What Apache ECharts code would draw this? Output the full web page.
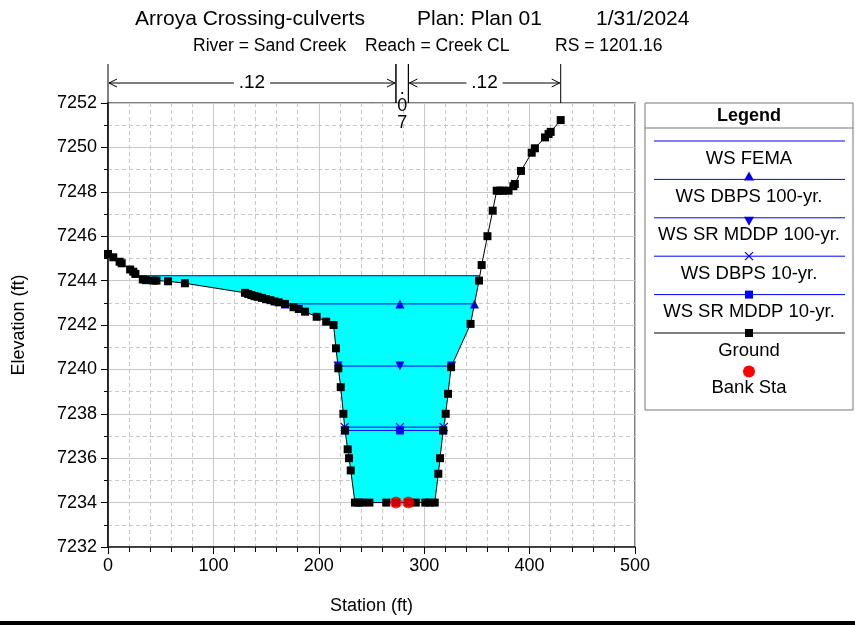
<!DOCTYPE html>
<html><head><meta charset="utf-8">
<script src="https://cdn.jsdelivr.net/npm/echarts@6/dist/echarts.min.js"></script>
<style>html,body{margin:0;padding:0;background:#fff}#c{width:855px;height:625px}</style>
</head><body><div id="c"></div>
<script>
// ---------- data ----------
const groundStation = [0, 5, 11, 13, 21, 24, 26, 33, 36, 43, 46, 57, 73,
  130, 133, 136, 139, 142, 146, 150, 154, 158, 162, 168, 176, 181, 187, 198, 207, 214,
  216.3, 218.5, 220.8, 223.3, 224.9, 227.4, 228.7, 230.3, 234.3, 238, 241, 248, 264,
  273.2, 285, 292, 301, 305, 310, 313.4, 315, 318, 320.4, 322.6, 325.5, 344, 352,
  354.5, 360, 365, 368.8, 372, 375, 380, 384.6, 386, 391.8, 402, 405, 414.6, 418, 420, 429.5];
const groundElev = [7245.2, 7245.05, 7244.85, 7244.78, 7244.5, 7244.4, 7244.3, 7244.05, 7244.02, 7244.0, 7244.0, 7243.97, 7243.88,
  7243.45, 7243.4, 7243.35, 7243.3, 7243.27, 7243.22, 7243.17, 7243.12, 7243.06, 7243.02, 7242.95, 7242.8, 7242.72, 7242.6, 7242.37, 7242.15, 7242.0,
  7240.95, 7240.05, 7239.2, 7238.0, 7237.25, 7236.4, 7236.0, 7235.45, 7234.0, 7234.0, 7234.0, 7234.0, 7234.0,
  7234.0, 7234.0, 7234.0, 7234.0, 7234.0, 7234.0, 7235.3, 7236.0, 7237.25, 7238.0, 7238.9, 7240.1, 7242.05, 7244.0,
  7244.7, 7246.0, 7247.15, 7248.05, 7248.05, 7248.05, 7248.05, 7248.25, 7248.35, 7248.94, 7249.76, 7249.96, 7250.45, 7250.6, 7250.7, 7251.23];
const bankStation = [273.2, 285];
const bankElev = [7234.0, 7234.0];
const wsNames = ['WS FEMA', 'WS DBPS 100-yr.', 'WS SR MDDP 100-yr.', 'WS DBPS 10-yr.', 'WS SR MDDP 10-yr.'];
const wsElev = [7244.22, 7242.95, 7240.15, 7237.4, 7237.25];
const wsMarkerStation = 277;
const nBounds = [0, 273.2, 285, 429.5];
const nValues = ['.12', '.07', '.12'];
const groundName = 'Ground';
const bankName = 'Bank Sta';
const titleParts = ['Arroya Crossing-culverts', 'Plan: Plan 01', '1/31/2024'];
const subParts = ['River = Sand Creek', 'Reach = Creek CL', 'RS = 1201.16'];
const xMin = 0, xMax = 500, xStep = 100;
const yMin = 7232, yMax = 7252, yStep = 2;

// ---------- helpers ----------
const FONT = '"Liberation Sans", Arial, sans-serif';
const BLUE = '#0000FF';
const ground = groundStation.map((s, i) => [s, groundElev[i]]);
let minIdx = 0;
groundElev.forEach((e, i) => { if (e < groundElev[minIdx]) minIdx = i; });
function crossing(ws) {
  let li = minIdx; while (li > 0 && groundElev[li - 1] < ws) li--;
  let ri = minIdx; while (ri < ground.length - 1 && groundElev[ri + 1] < ws) ri++;
  const interp = (a, b) => {
    const t = (ws - a[1]) / (b[1] - a[1]);
    return a[0] + t * (b[0] - a[0]);
  };
  const xl = li > 0 ? interp(ground[li], ground[li - 1]) : ground[0][0];
  const xr = ri < ground.length - 1 ? interp(ground[ri], ground[ri + 1]) : ground[ground.length - 1][0];
  return { xl, xr, li, ri };
}
const fema = crossing(wsElev[0]);
const fillPoly = [[fema.xl, wsElev[0]]].concat(ground.slice(fema.li, fema.ri + 1)).concat([[fema.xr, wsElev[0]]]);

const SYM_X = 'path://M0,1L1,0L5,4L9,0L10,1L6,5L10,9L9,10L5,6L1,10L0,9L4,5Z';
const SYM_DOWN = 'path://M0,0L10,0L5,9Z';
const wsSymbols = ['none', 'triangle', SYM_DOWN, SYM_X, 'rect'];
const wsSymbolSize = [0, 9, 9, 9, 8];

const series = [];
series.push({
  type: 'custom', name: 'fill', silent: true, z: 1,
  data: [fillPoly[0]],
  renderItem: (p, api) => ({
    type: 'polygon',
    shape: { points: fillPoly.map(pt => api.coord(pt)) },
    style: { fill: '#00FFFF' }
  })
});
wsNames.forEach((name, k) => {
  const c = crossing(wsElev[k]);
  series.push({
    type: 'line', name, z: 3,
    data: [[c.xl, wsElev[k]], [wsMarkerStation, wsElev[k]], [c.xr, wsElev[k]]],
    symbol: wsSymbols[k], symbolSize: wsSymbolSize[k], showSymbol: k > 0,
    lineStyle: { color: BLUE, width: 1 }, itemStyle: { color: BLUE },
    animation: false
  });
});
series.push({
  type: 'line', name: groundName, z: 4, data: ground,
  symbol: 'rect', symbolSize: 8,
  lineStyle: { color: '#000', width: 1 }, itemStyle: { color: '#000' }, animation: false
});
series.push({
  type: 'scatter', name: bankName, z: 5,
  data: bankStation.map((s, i) => [s, bankElev[i]]),
  symbol: 'circle', symbolSize: 12, itemStyle: { color: '#FF0000' }, animation: false
});
// Manning's n annotation above plot
series.push({
  type: 'custom', name: 'nvalues', silent: true, clip: false, z: 6,
  data: nValues.map((v, i) => [nBounds[i], nBounds[i + 1]]),
  renderItem: (p, api) => {
    const i = p.dataIndex;
    const a = api.coord([api.value(0), yMax]);
    const b = api.coord([api.value(1), yMax]);
    const top = a[1];
    const x0 = a[0], x1 = b[0];
    const ya = top - 20;
    const ch = [];
    const ln = (xa, ya_, xb, yb) => ({ type: 'line', shape: { x1: xa, y1: ya_, x2: xb, y2: yb }, style: { stroke: '#000', lineWidth: 1 } });
    ch.push(ln(x0, top - 39, x0, top));
    ch.push(ln(x1, top - 39, x1, top));
    const mid = (x0 + x1) / 2;
    if (x1 - x0 > 50) {
      ch.push(ln(x0 + 1, ya, mid - 18, ya));
      ch.push(ln(mid + 18, ya, x1 - 1, ya));
      ch.push({ type: 'polyline', shape: { points: [[x0 + 9, ya - 4], [x0 + 1, ya], [x0 + 9, ya + 4]] }, style: { stroke: '#000', fill: null, lineWidth: 1 } });
      ch.push({ type: 'polyline', shape: { points: [[x1 - 9, ya - 4], [x1 - 1, ya], [x1 - 9, ya + 4]] }, style: { stroke: '#000', fill: null, lineWidth: 1 } });
      ch.push({ type: 'text', style: { text: nValues[i], x: mid, y: ya, align: 'center', verticalAlign: 'middle', font: '19px ' + FONT, fill: '#000' } });
    } else {
      ch.push({ type: 'text', style: { text: nValues[i].split('').join('\n'), x: mid, y: top + 3, align: 'center', verticalAlign: 'middle', font: '18px ' + FONT, lineHeight: 17, fill: '#000' } });
    }
    return { type: 'group', children: ch };
  }
});

// ---------- legend (drawn) ----------
const LX = 645, LY = 103, LW = 208, LH = 307;
const lcx = LX + LW / 2;
const legendEls = [
  { type: 'rect', shape: { x: LX, y: LY, width: LW, height: LH }, style: { fill: '#fff', stroke: '#777', lineWidth: 1 } },
  { type: 'line', shape: { x1: LX, y1: LY + 25, x2: LX + LW, y2: LY + 25 }, style: { stroke: '#777', lineWidth: 1 } },
  { type: 'text', style: { text: 'Legend', x: lcx, y: LY + 13, align: 'center', verticalAlign: 'middle', font: 'bold 18px ' + FONT, fill: '#000' } }
];
const legNames = wsNames.concat([groundName, bankName]);
legNames.forEach((name, k) => {
  const ly = LY + 38 + k * 38.4;
  const ty = ly + 17.5;
  if (k < 6) {
    legendEls.push({ type: 'line', shape: { x1: LX + 9, y1: ly, x2: LX + LW - 8, y2: ly }, style: { stroke: k < 5 ? BLUE : '#000', lineWidth: 1 } });
  }
  const col = k < 5 ? BLUE : '#000';
  if (k === 1) legendEls.push({ type: 'polygon', shape: { points: [[lcx - 5, ly + 1], [lcx + 5, ly + 1], [lcx, ly - 8]] }, style: { fill: col } });
  if (k === 2) legendEls.push({ type: 'polygon', shape: { points: [[lcx - 5, ly - 1], [lcx + 5, ly - 1], [lcx, ly + 8]] }, style: { fill: col } });
  if (k === 3) {
    legendEls.push({ type: 'line', shape: { x1: lcx - 4, y1: ly - 4, x2: lcx + 4, y2: ly + 4 }, style: { stroke: col, lineWidth: 1.2 } });
    legendEls.push({ type: 'line', shape: { x1: lcx - 4, y1: ly + 4, x2: lcx + 4, y2: ly - 4 }, style: { stroke: col, lineWidth: 1.2 } });
  }
  if (k === 4 || k === 5) legendEls.push({ type: 'rect', shape: { x: lcx - 4, y: ly - 4, width: 8, height: 8 }, style: { fill: col } });
  let textY = ty;
  if (k === 6) {
    const cy = LY + 38 + 5 * 38.4 + 38.5;
    legendEls.push({ type: 'circle', shape: { cx: lcx, cy: cy, r: 6 }, style: { fill: '#FF0000' } });
    textY = cy + 16;
  }
  legendEls.push({ type: 'text', style: { text: name, x: lcx, y: textY, align: 'center', verticalAlign: 'middle', font: '18.5px ' + FONT, fill: '#000' } });
});
legendEls.push({ type: 'rect', shape: { x: 0, y: 621, width: 855, height: 4 }, style: { fill: '#000' } });

const titleLefts = [135, 417, 596];
const subLefts = [193, 365, 555];
const titles = [];
titleParts.forEach((t, i) => titles.push({ text: t, left: titleLefts[i], top: 9, padding: 0, textStyle: { fontSize: 21, fontWeight: 'normal', fontFamily: FONT, color: '#000' } }));
subParts.forEach((t, i) => titles.push({ text: t, left: subLefts[i], top: 37, padding: 0, textStyle: { fontSize: 17.5, fontWeight: 'normal', fontFamily: FONT, color: '#000' } }));

const gridLine = { show: true, lineStyle: { color: '#c8c8c8', width: 1, type: 'solid' } };
const minorLine = { show: true, lineStyle: { color: '#c8c8c8', width: 1, type: [4, 3] } };
const plainLabel = v => String(v);

const chart = echarts.init(document.getElementById('c'), null, { renderer: 'canvas' });
chart.setOption({
  animation: false,
  backgroundColor: '#fff',
  title: titles,
  grid: { left: 108, right: 220, top: 103, bottom: 78, show: true, borderColor: '#555', borderWidth: 1.5, backgroundColor: 'transparent' },
  xAxis: {
    type: 'value', min: xMin, max: xMax, interval: xStep,
    name: 'Station (ft)', nameLocation: 'middle', nameGap: 50,
    nameTextStyle: { fontSize: 18, fontFamily: FONT, color: '#000' },
    axisLine: { show: true, onZero: false, lineStyle: { color: '#222', width: 1.5 } },
    axisTick: { show: true, length: 7, lineStyle: { color: '#000' } },
    minorTick: { show: true, splitNumber: 5, length: 5, lineStyle: { color: '#000' } },
    axisLabel: { fontSize: 18, fontFamily: FONT, color: '#000', margin: 10, formatter: plainLabel },
    splitLine: gridLine, minorSplitLine: minorLine
  },
  yAxis: {
    type: 'value', min: yMin, max: yMax, interval: yStep,
    name: 'Elevation (ft)', nameLocation: 'middle', nameGap: 80,
    nameTextStyle: { fontSize: 18, fontFamily: FONT, color: '#000' },
    axisLine: { show: true, onZero: false, lineStyle: { color: '#000', width: 1.5 } },
    axisTick: { show: true, length: 7, lineStyle: { color: '#000' } },
    minorTick: { show: true, splitNumber: 2, length: 4, lineStyle: { color: '#000' } },
    axisLabel: { fontSize: 18, fontFamily: FONT, color: '#000', margin: 11, formatter: plainLabel },
    splitLine: gridLine, minorSplitLine: minorLine
  },
  graphic: legendEls,
  series
});
</script>
</body></html>
